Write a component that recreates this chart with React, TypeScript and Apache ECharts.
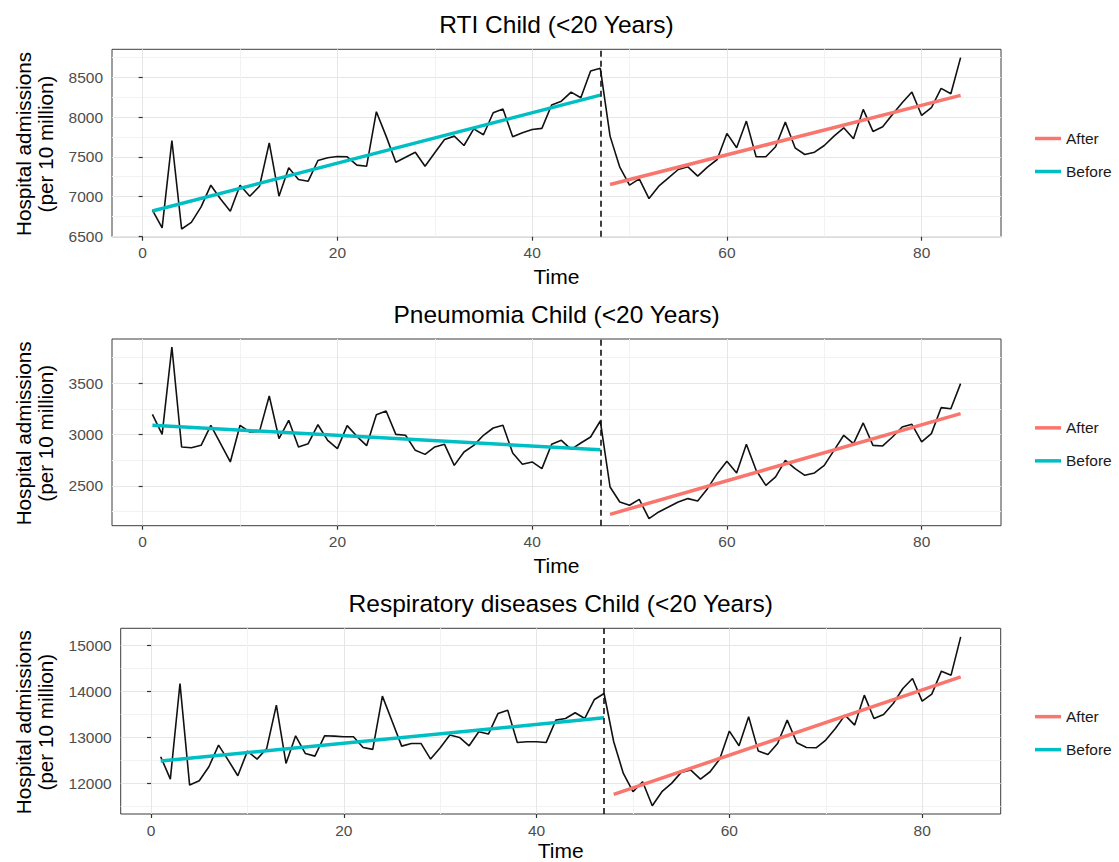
import React, { useEffect, useRef } from 'react';
import * as echarts from 'echarts';

const TIME = Array.from({ length: 84 }, (_, i) => i + 1);

const RTI = [
  6828, 6605, 7705, 6592, 6676, 6870, 7143, 6970, 6815, 7143,
  7004, 7130, 7676, 7004, 7361, 7214, 7193, 7453, 7487, 7504,
  7500, 7395, 7382, 8067, 7760, 7432, 7495, 7558, 7382, 7550,
  7718, 7760, 7642, 7852, 7777, 8054, 8100, 7752, 7802, 7844,
  7857, 8151, 8200, 8314, 8243, 8579, 8613, 7760, 7369, 7143,
  7222, 6975, 7130, 7235, 7340, 7374, 7256, 7369, 7466, 7794,
  7613, 7949, 7500, 7500, 7626, 7936, 7613, 7529, 7558, 7642,
  7760, 7865, 7726, 8096, 7819, 7878, 8033, 8180, 8314, 8020,
  8117, 8361, 8293, 8747,
];

const PNEU = [
  3198, 3003, 3854, 2880, 2873, 2896, 3091, 2912, 2734, 3091,
  3026, 3032, 3377, 2961, 3140, 2880, 2912, 3097, 2945, 2864,
  3088, 2984, 2893, 3195, 3231, 3003, 2994, 2847, 2808, 2880,
  2906, 2701, 2831, 2896, 2994, 3065, 3091, 2821, 2711, 2734,
  2669, 2906, 2945, 2857, 2919, 2977, 3133, 2490, 2344, 2312,
  2370, 2182, 2247, 2295, 2344, 2377, 2354, 2474, 2620, 2740,
  2627, 2906, 2653, 2506, 2588, 2750, 2669, 2604, 2627, 2701,
  2847, 2994, 2912, 3114, 2896, 2890, 2977, 3075, 3101, 2929,
  3010, 3263, 3253, 3497,
];

const RESP = [
  12579, 12092, 14176, 11962, 12056, 12361, 12833, 12506, 12165, 12702,
  12528, 12760, 13704, 12434, 13036, 12652, 12593, 13036, 13029, 13015,
  13015, 12782, 12739, 13900, 13360, 12811, 12869, 12869, 12528, 12775,
  13051, 13000, 12818, 13123, 13073, 13523, 13595, 12891, 12906, 12906,
  12891, 13378, 13414, 13537, 13414, 13828, 13958, 12906, 12216, 11817,
  12034, 11512, 11817, 11998, 12238, 12289, 12092, 12252, 12528, 13138,
  12818, 13450, 12702, 12630, 12869, 13378, 12884, 12782, 12775, 12942,
  13196, 13486, 13269, 13922, 13414, 13501, 13741, 14067, 14285, 13791,
  13944, 14445, 14358, 15193,
];

const BEFORE_T = [1, 47];
const AFTER_T = [48, 84];
const RTI_BEFORE = [6818, 8275];
const RTI_AFTER = [7151, 8272];
const PNEU_BEFORE = [3091, 2854];
const PNEU_AFTER = [2224, 3205];
const RESP_BEFORE = [12485, 13428];
const RESP_AFTER = [11759, 14321];

const INTERVENTION = 47;

const X_TICKS = [0, 20, 40, 60, 80];
const RTI_TICKS = [6500, 7000, 7500, 8000, 8500];
const PNEU_TICKS = [2500, 3000, 3500];
const RESP_TICKS = [12000, 13000, 14000, 15000];

const TITLES = [
  'RTI Child (<20 Years)',
  'Pneumomia Child (<20 Years)',
  'Respiratory diseases Child (<20 Years)',
];
const X_NAME = 'Time';
const Y_NAME = 'Hospital admissions\n(per 10 million)';
const LEGEND_NAMES = ['After', 'Before'];

const FONT = "'Liberation Sans', Arial, Helvetica, sans-serif";
const RED = '#F8766D';
const CYAN = '#00BFC4';

const PANELS = [
  { obs: RTI, before: RTI_BEFORE, after: RTI_AFTER, ticks: RTI_TICKS, yMin: 6495, yMax: 8852, split: 4,
    grid: { left: 112, top: 49.3, width: 889, height: 187.4 } },
  { obs: PNEU, before: PNEU_BEFORE, after: PNEU_AFTER, ticks: PNEU_TICKS, yMin: 2113, yMax: 3932, split: 4,
    grid: { left: 112, top: 339, width: 889, height: 186.7 } },
  { obs: RESP, before: RESP_BEFORE, after: RESP_AFTER, ticks: RESP_TICKS, yMin: 11331, yMax: 15379, split: 5,
    grid: { left: 120.7, top: 628.3, width: 880, height: 185.7 } },
];

const isIn = (arr: number[], v: number) => arr.some((a) => Math.abs(a - v) < 1e-6);

export default function App() {
  const ref = useRef<HTMLDivElement>(null);

  useEffect(() => {
    document.body.style.margin = '0';
    if (!ref.current) return;
    const chart = echarts.init(ref.current, null, { renderer: 'svg' });

    const grids: any[] = [];
    const xAxes: any[] = [];
    const yAxes: any[] = [];
    const series: any[] = [];
    const legends: any[] = [];
    const graphics: any[] = [];

    PANELS.forEach((p, i) => {
      const g = p.grid;
      grids.push({
        left: g.left, top: g.top, width: g.width, height: g.height,
        show: true, borderColor: '#3d3d3d', borderWidth: 1, backgroundColor: '#fff',
        containLabel: false, outerBoundsMode: 'none',
      });
      xAxes.push({
        type: 'value', gridIndex: i, min: -3.15, max: 88.15, splitNumber: 5,
        axisLine: { show: false },
        axisTick: { show: true, length: 4, lineStyle: { color: '#333', width: 1.2 }, customValues: X_TICKS },
        axisLabel: {
          show: true, margin: 8, color: '#4d4d4d', fontSize: 15.5, fontFamily: FONT,
          customValues: X_TICKS,
          formatter: (v: number) => (isIn(X_TICKS, v) ? String(v) : ''),
        },
        splitLine: { show: true, lineStyle: { color: '#e6e6e6', width: 1 } },
        minorTick: { show: false, splitNumber: 2 },
        minorSplitLine: { show: true, lineStyle: { color: '#f2f2f2', width: 1 } },
      });
      yAxes.push({
        type: 'value', gridIndex: i, min: p.yMin, max: p.yMax, splitNumber: p.split,
        axisLine: { show: false },
        axisTick: { show: true, length: 4, lineStyle: { color: '#333', width: 1.2 }, customValues: p.ticks },
        axisLabel: {
          show: true, margin: 9, color: '#4d4d4d', fontSize: 15.5, fontFamily: FONT,
          customValues: p.ticks,
          formatter: (v: number) => (isIn(p.ticks, v) ? String(v) : ''),
        },
        splitLine: { show: true, lineStyle: { color: '#e6e6e6', width: 1 } },
        minorTick: { show: false, splitNumber: 2 },
        minorSplitLine: { show: true, lineStyle: { color: '#f2f2f2', width: 1 } },
      });

      series.push({
        type: 'line', name: 'Observed', xAxisIndex: i, yAxisIndex: i,
        data: TIME.map((t, k) => [t, p.obs[k]]),
        symbol: 'none', showSymbol: false, silent: true,
        lineStyle: { color: '#111', width: 1.6 }, itemStyle: { color: '#111' },
        z: 2,
        markLine: {
          silent: true, symbol: ['none', 'none'], label: { show: false },
          lineStyle: { color: '#111', width: 1.6, type: [6, 4] },
          data: [{ xAxis: INTERVENTION }],
          animation: false,
        },
      });
      series.push({
        type: 'line', name: 'Before', xAxisIndex: i, yAxisIndex: i,
        data: BEFORE_T.map((t, k) => [t, p.before[k]]),
        symbol: 'none', showSymbol: false, silent: true,
        lineStyle: { color: CYAN, width: 3.5 }, itemStyle: { color: CYAN }, z: 3,
      });
      series.push({
        type: 'line', name: 'After', xAxisIndex: i, yAxisIndex: i,
        data: AFTER_T.map((t, k) => [t, p.after[k]]),
        symbol: 'none', showSymbol: false, silent: true,
        lineStyle: { color: RED, width: 3.5 }, itemStyle: { color: RED }, z: 3,
      });

      const cy = g.top + g.height / 2;
      const cx = g.left + g.width / 2;
      legends.push({
        data: LEGEND_NAMES, orient: 'vertical', left: 1035, top: cy - 4.5 - 9,
        icon: 'rect', itemWidth: 26, itemHeight: 3.5, itemGap: 15, selectedMode: false,
        textStyle: { color: '#1a1a1a', fontSize: 15.5, lineHeight: 18, fontFamily: FONT },
        padding: 0,
      });
      graphics.push({
        type: 'text', x: cx, y: g.top - 25, z: 100,
        style: { text: TITLES[i], fill: '#000', fontSize: 24.5, fontFamily: FONT, align: 'center', verticalAlign: 'middle' },
      });
      graphics.push({
        type: 'text', x: cx, y: Math.min(g.top + g.height + 40, 850), z: 100,
        style: { text: X_NAME, fill: '#000', fontSize: 21, fontFamily: FONT, align: 'center', verticalAlign: 'middle' },
      });
      graphics.push({
        type: 'text', x: 34.5, y: cy + 1, rotation: Math.PI / 2, z: 100,
        style: {
          text: Y_NAME, fill: '#000', fontSize: 20.7, lineHeight: 22, fontFamily: FONT,
          align: 'center', verticalAlign: 'middle',
        },
      });
    });

    chart.setOption({
      animation: false,
      backgroundColor: '#fff',
      textStyle: { fontFamily: FONT },
      grid: grids,
      xAxis: xAxes,
      yAxis: yAxes,
      legend: legends,
      series,
      graphic: graphics,
    });

    return () => chart.dispose();
  }, []);

  return <div ref={ref} style={{ width: 1119, height: 862 }} />;
}
